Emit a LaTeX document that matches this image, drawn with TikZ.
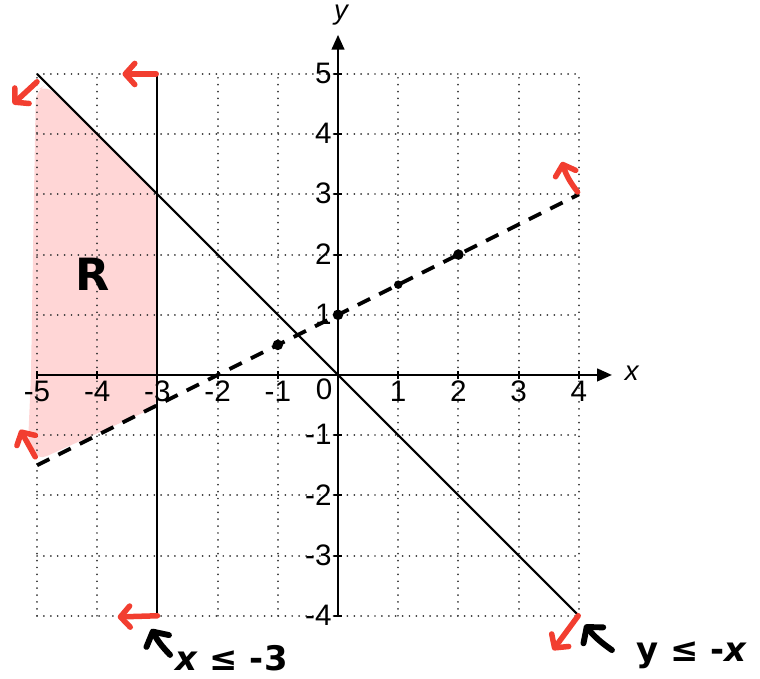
\documentclass[tikz,border=0pt]{standalone}
\usepackage{fontspec}
\setmainfont{Liberation Sans}
\newfontfamily\handfont{DejaVu Sans}
\usetikzlibrary{arrows.meta}
\definecolor{penred}{RGB}{242,62,48}
\definecolor{regionpink}{RGB}{255,214,214}
\definecolor{griddot}{RGB}{55,55,55}
\begin{document}
\begin{tikzpicture}[x=1cm,y=1cm,
  gridline/.style={griddot, line width=0.9pt, dash pattern=on 0.01pt off 3.25pt, line cap=round},
  axisline/.style={black, line width=1pt},
  boundary/.style={black, line width=1pt},
  dashedline/.style={black, line width=1.8pt, dash pattern=on 6.5pt off 4.8pt},
  ticklabel/.style={font=\fontsize{14}{16}\selectfont, inner sep=0pt},
  axislabel/.style={font=\fontsize{13}{15}\selectfont\itshape, inner sep=0pt},
  redarrow/.style={penred, line width=2.6pt, line cap=round, -{Straight Barb[length=4.5pt,width=10pt,round]}},
  blackarrow/.style={black, line width=2.8pt, line cap=round, -{Straight Barb[length=5pt,width=12pt,round]}},
  handtext/.style={font=\handfont\bfseries\fontsize{16}{19}\selectfont, inner sep=0pt},
  dotpt/.style={fill=black, circle, inner sep=0pt, minimum size=5pt}
]
\useasboundingbox (-5.615,-5.05) rectangle (7.01,6.229);

% shaded region R
\fill[regionpink, rounded corners=5pt] (-5.02,4.72) -- (-4.85,4.82) -- (-3,3.02) -- (-3,-0.52)
  -- (-5.0,-1.42) -- (-5.15,-1.15) -- (-5.1,0) -- (-5.05,3) -- cycle;

% grid
\foreach \i in {-5,...,4} \draw[gridline] (\i,-4) -- (\i,5);
\foreach \j in {-4,...,5} \draw[gridline] (-5,\j) -- (4,\j);

% axes
\coordinate (xstart) at (-5,0);
\coordinate (xend) at (4.55,0);
\coordinate (ystart) at (0,-4);
\coordinate (yend) at (0,5.65);
\draw[axisline, -{Triangle[length=7pt,width=6pt]}] (xstart) -- (xend);
\draw[axisline, -{Triangle[length=7pt,width=6pt]}] (ystart) -- (yend);
\node[axislabel] (xlab) at (4.88,0.03) {x};
\node[axislabel] (ylab) at (0.05,5.98) {y};

% ticks and labels
\foreach \i in {-5,-4,-3,-2,-1,1,2,3,4} {
  \draw[axisline] (\i,-0.07) -- (\i,0.07);
  \node[ticklabel] (xt\i) at (\i,-0.27) {\i};
}
\foreach \j in {-4,-3,-2,-1,1,2,3,4,5} {
  \draw[axisline] (-0.07,\j) -- (0.07,\j);
  \node[ticklabel, anchor=east] (yt\j) at (-0.1,\j+0.01) {\j};
}
\node[ticklabel] (origin) at (-0.23,-0.24) {0};

% boundary lines
\coordinate (A) at (-5,5);
\coordinate (B) at (4,-4);
\coordinate (C) at (-3,5);
\coordinate (D) at (-3,-4);
\coordinate (E) at (-5,-1.5);
\coordinate (F) at (4,3);
\draw[boundary] (A) -- (B);
\draw[boundary] (C) -- (D);
\draw[dashedline] (E) -- (F);

% points
\node[dotpt] (p1) at (-1,0.5) {};
\node[dotpt] (p2) at (0,1) {};
\node[dotpt, minimum size=4pt] (p3) at (1,1.5) {};
\node[dotpt] (p4) at (2,2) {};

% red direction arrows
\coordinate (ra1) at (-5.0,4.87);  \coordinate (rb1) at (-5.40,4.50);
\coordinate (ra2) at (-3.02,5.0);  \coordinate (rb2) at (-3.58,5.0);
\coordinate (ra3) at (-3.0,-4.0);  \coordinate (rb3) at (-3.66,-4.02);
\coordinate (ra4) at (3.99,-4.0);  \coordinate (rb4) at (3.57,-4.57);
\coordinate (ra5) at (3.98,3.04);  \coordinate (rb5) at (3.72,3.54);
\coordinate (ra6) at (-5.03,-1.36); \coordinate (rb6) at (-5.28,-0.91);
\draw[redarrow] (ra1) -- (rb1);
\draw[redarrow] (ra2) -- (rb2);
\draw[redarrow] (ra3) -- (rb3);
\draw[redarrow] (ra4) -- (rb4);
\draw[redarrow] (ra5) to[bend left=10] (rb5);
\draw[redarrow] (ra6) -- (rb6);

% region label
\node[font=\handfont\bfseries\fontsize{21}{24}\selectfont, inner sep=0pt] (R) at (-4.08,1.68) {R};

% annotations
\coordinate (ba1) at (-2.79,-4.65); \coordinate (bb1) at (-3.10,-4.22);
\coordinate (ba2) at (4.55,-4.57);  \coordinate (bb2) at (4.10,-4.15);
\draw[blackarrow] (ba1) to[bend left=8] (bb1);
\draw[blackarrow] (ba2) to[bend left=8] (bb2);
\node[handtext] (t1) at (-1.77,-4.70) {\textit{x} ≤ -3};
\node[handtext] (t2) at (5.88,-4.66) {y ≤ -\textit{x}};
\end{tikzpicture}
\end{document}
